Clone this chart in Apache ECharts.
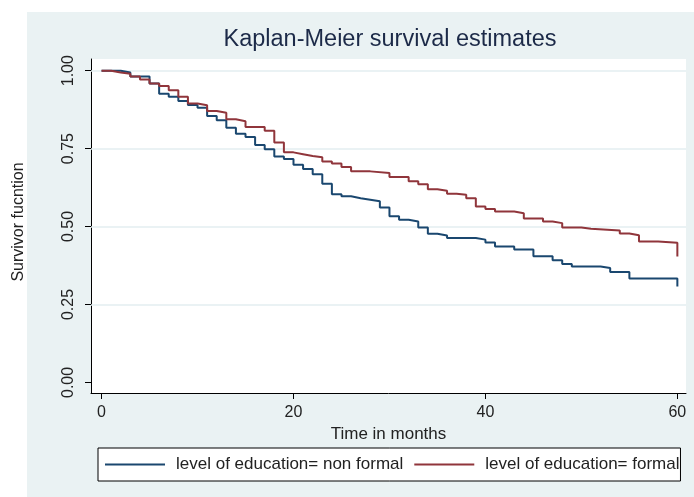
<!DOCTYPE html>
<html>
<head>
<meta charset="utf-8">
<script src="https://cdn.jsdelivr.net/npm/echarts@6/dist/echarts.min.js"></script>
<style>
  html, body { margin: 0; padding: 0; background: #ffffff; }
  #panel { position: absolute; left: 27px; top: 12px; width: 667px; height: 485px; background: #EAF2F3; }
  #chart { position: absolute; left: 0; top: 0; width: 694px; height: 497px; }
</style>
</head>
<body>
<div id="panel"></div>
<div id="chart"></div>
<script>
// Kaplan-Meier survivor function by level of education (step points: time, S(t) after each drop)
const nonFormalTime = [0, 2, 3, 5, 6, 7, 8, 9, 10, 11, 12, 13, 14, 15, 16, 17, 18, 19, 20, 21, 22, 23, 24, 25, 26, 27, 28, 29, 30, 31, 32, 33, 34, 35, 36, 39, 40, 41, 43, 45, 47, 48, 49, 52, 53, 55, 60];
const nonFormalSurv = [1.000, 0.994, 0.981, 0.959, 0.926, 0.916, 0.903, 0.890, 0.881, 0.855, 0.841, 0.817, 0.798, 0.787, 0.762, 0.748, 0.725, 0.717, 0.698, 0.685, 0.668, 0.637, 0.604, 0.597, 0.591, 0.586, 0.581, 0.561, 0.533, 0.522, 0.516, 0.497, 0.477, 0.471, 0.463, 0.458, 0.449, 0.436, 0.426, 0.405, 0.392, 0.380, 0.372, 0.367, 0.354, 0.333, 0.308];

const formalTime = [0, 1, 2, 3, 4, 5, 6, 7, 8, 9, 10, 11, 12, 13, 14, 15, 17, 18, 19, 20, 21, 22, 23, 24, 25, 26, 28, 30, 32, 33, 34, 35, 36, 37, 38, 39, 40, 41, 43, 44, 46, 47, 48, 50, 51, 54, 55, 56, 58, 60];
const formalSurv = [1.000, 0.994, 0.990, 0.981, 0.972, 0.959, 0.951, 0.937, 0.916, 0.895, 0.889, 0.871, 0.865, 0.844, 0.838, 0.819, 0.807, 0.770, 0.738, 0.732, 0.726, 0.722, 0.709, 0.702, 0.691, 0.677, 0.672, 0.659, 0.645, 0.636, 0.620, 0.615, 0.605, 0.602, 0.591, 0.564, 0.556, 0.548, 0.543, 0.526, 0.516, 0.511, 0.497, 0.493, 0.487, 0.478, 0.472, 0.452, 0.448, 0.404];

const xTicks = [0, 20, 40, 60];
const yTicks = [0, 0.25, 0.5, 0.75, 1];
const yGrid = [0.25, 0.5, 0.75, 1];

const seriesNames = ['level of education= non formal', 'level of education= formal'];
const seriesColors = ['#1a476f', '#90353b'];

const toPairs = (t, s) => t.map((v, i) => [v, s[i]]);

const chart = echarts.init(document.getElementById('chart'), null, { renderer: 'canvas' });
const FONT = 'Liberation Sans, Arial, sans-serif';

chart.setOption({
  backgroundColor: 'transparent',
  animation: false,
  title: {
    text: 'Kaplan-Meier survival estimates',
    left: 390, top: 28, textAlign: 'center', padding: 0,
    textStyle: { fontFamily: FONT, fontSize: 23.5, fontWeight: 'normal', color: '#1c2a48' }
  },
  grid: {
    left: 91, top: 59, right: 8, bottom: 104,
    show: true, backgroundColor: '#ffffff', borderWidth: 0
  },
  legend: {
    left: 98, top: 448,
    orient: 'horizontal',
    icon: 'rect',
    itemWidth: 60, itemHeight: 2, itemGap: 11,
    padding: [8, 1, 8, 7],
    backgroundColor: '#ffffff', borderColor: '#000000', borderWidth: 1, borderRadius: 0,
    textStyle: { fontFamily: FONT, fontSize: 17, color: '#222222', padding: [0, 0, 0, 6] },
    data: seriesNames
  },
  xAxis: {
    type: 'value', min: -1.1, max: 60.9,
    name: 'Time in months', nameLocation: 'middle', nameGap: 26,
    nameTextStyle: { fontFamily: FONT, fontSize: 17, color: '#222222' },
    axisLine: { show: true, onZero: false, lineStyle: { color: '#000000', width: 1 } },
    axisTick: { show: true, length: 6, customValues: xTicks, lineStyle: { color: '#000000' } },
    axisLabel: { customValues: xTicks, margin: 12, fontFamily: FONT, fontSize: 16, color: '#222222' },
    splitLine: { show: false }
  },
  yAxis: {
    type: 'value', min: -0.034, max: 1.0375,
    name: 'Survivor fucntion', nameLocation: 'middle', nameGap: 64,
    nameTextStyle: { fontFamily: FONT, fontSize: 16, color: '#222222', padding: [0, 0, 0, 8] },
    axisLine: { show: true, onZero: false, lineStyle: { color: '#000000', width: 1 } },
    axisTick: { show: true, length: 6, customValues: yTicks, lineStyle: { color: '#000000' } },
    axisLabel: {
      customValues: yTicks, rotate: 90, margin: 14,
      fontFamily: FONT, fontSize: 16, color: '#222222',
      formatter: v => Number(v).toFixed(2)
    },
    splitLine: { show: false }
  },
  series: [
    {
      // horizontal reference lines behind the curves
      name: 'grid', type: 'line', data: [], silent: true, z: 1,
      markLine: {
        z: 1,
        silent: true, symbol: 'none', label: { show: false },
        lineStyle: { color: '#e3eef0', width: 1.5, type: 'solid' },
        data: yGrid.map(v => ({ yAxis: v }))
      }
    },
    {
      name: seriesNames[0], type: 'line', step: 'end', symbol: 'none',
      color: seriesColors[0], lineStyle: { width: 2, color: seriesColors[0] },
      data: toPairs(nonFormalTime, nonFormalSurv),
      z: 3
    },
    {
      name: seriesNames[1], type: 'line', step: 'end', symbol: 'none',
      color: seriesColors[1], lineStyle: { width: 2, color: seriesColors[1] },
      data: toPairs(formalTime, formalSurv),
      z: 4
    }
  ]
});
</script>
</body>
</html>
